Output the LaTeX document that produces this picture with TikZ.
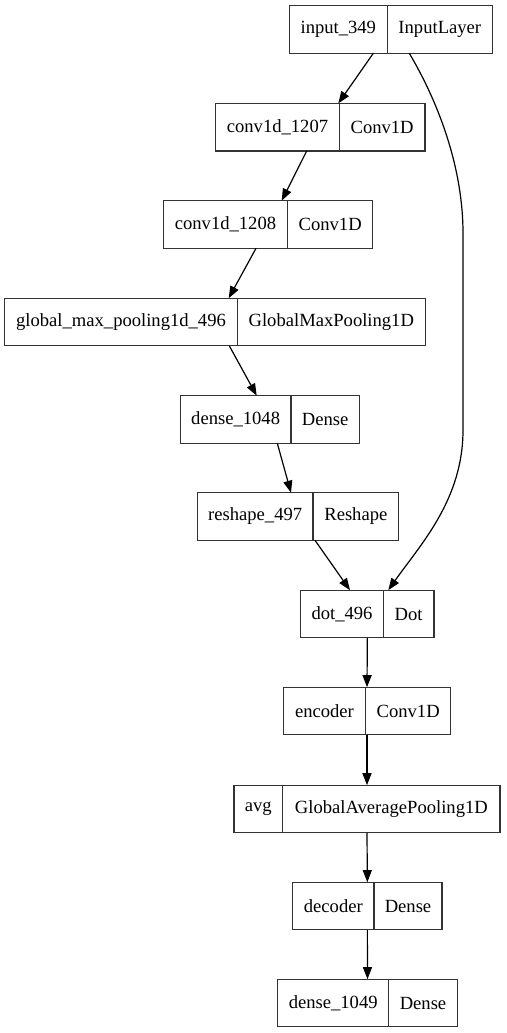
\documentclass[tikz,border=0pt]{standalone}
\usepackage{fontspec}
\setmainfont{Liberation Serif}
\usetikzlibrary{positioning,calc,arrows.meta}

\begin{document}
\begin{tikzpicture}[x=1pt, y=-1pt,
    part/.style={draw=black!80, line width=1.2pt, minimum height=47.6pt, inner sep=0pt, outer sep=0pt, font=\fontsize{18.6}{22}\selectfont},
    edge/.style={line width=1.2pt, -{Triangle[length=12pt, width=9pt]}}]
    \useasboundingbox (0,0) rectangle (506,1033);

    % layers: name part, then class part
    \node[part, minimum width=98] (in349) at (338.3,29.5) {input\_349};
    \node[part, minimum width=105, right=0pt of in349] (in349c) {InputLayer};
    \node[part, minimum width=123.6] (conv1207) at (277.5,127.2) {conv1d\_1207};
    \node[part, minimum width=85.7, right=0pt of conv1207] (conv1207c) {Conv1D};
    \node[part, minimum width=124.4] (conv1208) at (225.5,224.5) {conv1d\_1208};
    \node[part, minimum width=85, right=0pt of conv1208] (conv1208c) {Conv1D};
    \node[part, minimum width=232.6] (gmp496) at (121,322) {global\_max\_pooling1d\_496};
    \node[part, minimum width=188, right=0pt of gmp496] (gmp496c) {GlobalMaxPooling1D};
    \node[part, minimum width=110.7] (dense1048) at (235.65,419.5) {dense\_1048};
    \node[part, minimum width=68.3, right=0pt of dense1048] (dense1048c) {Dense};
    \node[part, minimum width=115.7] (reshape497) at (255.15,516.5) {reshape\_497};
    \node[part, minimum width=85.7, right=0pt of reshape497] (reshape497c) {Reshape};
    \node[part, minimum width=82.6] (dot496) at (342,614) {dot\_496};
    \node[part, minimum width=50.7, right=0pt of dot496] (dot496c) {Dot};
    \node[part, minimum width=82.4] (encoder) at (324.5,711) {encoder};
    \node[part, minimum width=85, right=0pt of encoder] (encoderc) {Conv1D};
    \node[part, minimum width=48.7] (avg) at (258.35,809) {avg};
    \node[part, minimum width=217.3, right=0pt of avg] (avgc) {GlobalAveragePooling1D};
    \node[part, minimum width=81.3] (decoder) at (333.35,906) {decoder};
    \node[part, minimum width=68, right=0pt of decoder] (decoderc) {Dense};
    \node[part, minimum width=111] (dense1049) at (333.2,1003) {dense\_1049};
    \node[part, minimum width=68.6, right=0pt of dense1049] (dense1049c) {Dense};

    % connections
    \draw[edge] ([xshift=-14]in349.south east) -- ([xshift=-1]conv1207.north east);
    \draw[edge] ([xshift=-32.6]conv1207.south east) -- ([xshift=-6]conv1208.north east);
    \draw[edge] ([xshift=-31.7]conv1208.south east) -- ([xshift=-8.6]gmp496.north east);
    \draw[edge] ([xshift=-8]gmp496.south east) -- ([xshift=-34.3]dense1048.north east);
    \draw[edge] ([xshift=-13.7]dense1048.south east) -- ([xshift=-22]reshape497.north east);
    \draw[edge] ([xshift=2]reshape497.south east) -- ([xshift=-33.3]dot496.north east);
    \draw[edge] ([xshift=22]in349.south east) .. controls (440,105) and (463,170) .. (463,233)
        -- (463,430) .. controls (463,500) and (420,545) .. ([xshift=5]dot496.north east);
    \draw[edge] ($(dot496.south west)!.5!(dot496c.south east)$) -- ($(encoder.north west)!.5!(encoderc.north east)$);
    \draw[edge] ($(encoder.south west)!.5!(encoderc.south east)$) -- ($(avg.north west)!.5!(avgc.north east)$);
    \draw[edge] ($(avg.south west)!.5!(avgc.south east)$) -- ($(decoder.north west)!.5!(decoderc.north east)$);
    \draw[edge] ($(decoder.south west)!.5!(decoderc.south east)$) -- ($(dense1049.north west)!.5!(dense1049c.north east)$);
\end{tikzpicture}
\end{document}
